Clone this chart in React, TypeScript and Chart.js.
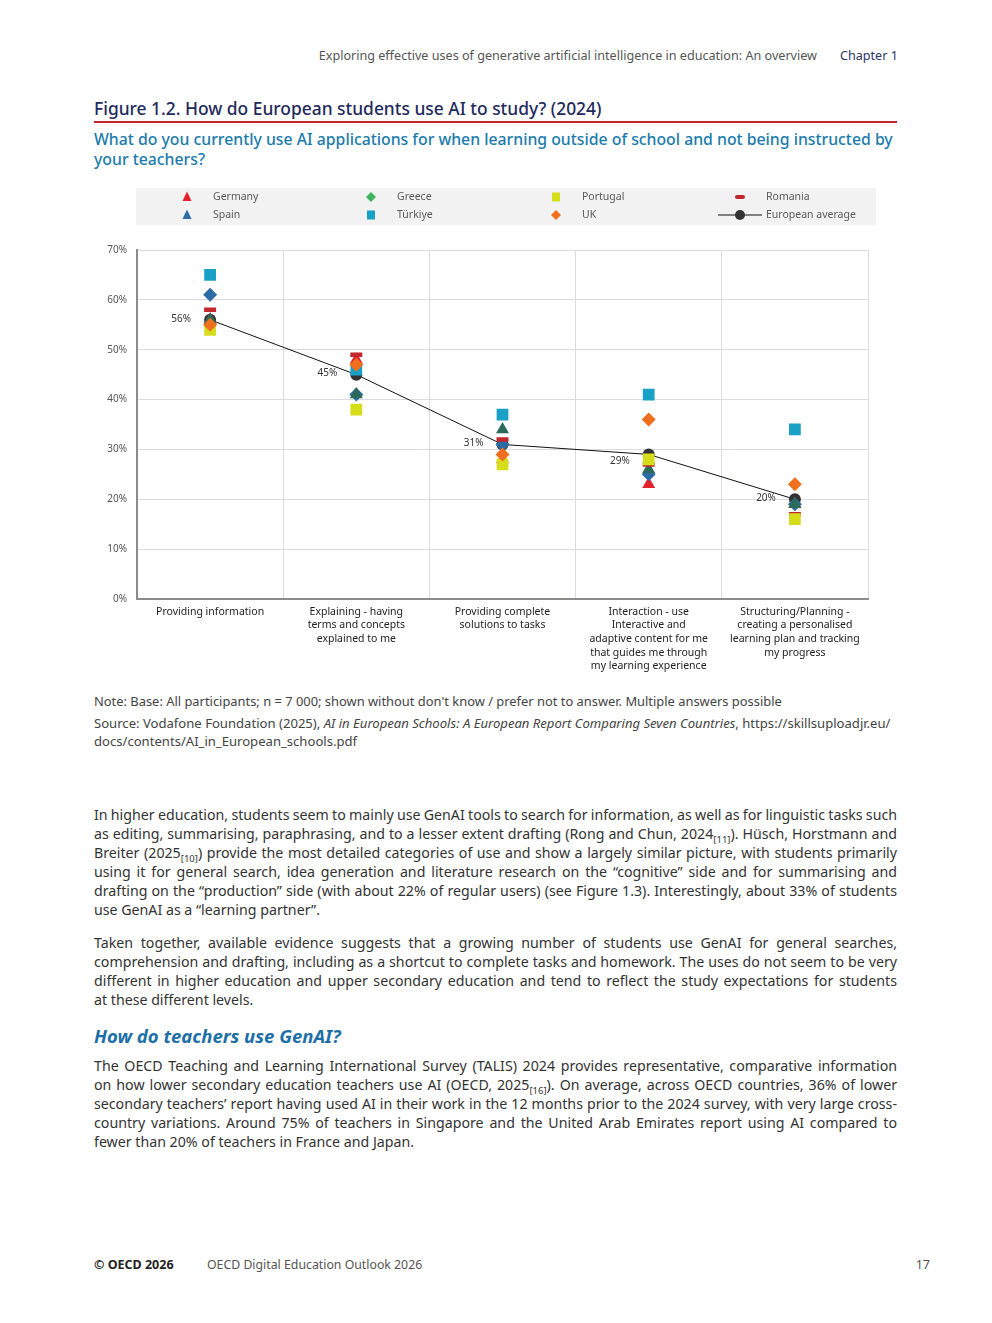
import React, { useEffect, useRef } from 'react';
import { Chart, registerables } from 'chart.js';

Chart.register(...registerables);

// ---------- data ----------
const categories: string[][] = [
  ['Providing information'],
  ['Explaining - having', 'terms and concepts', 'explained to me'],
  ['Providing complete', 'solutions to tasks'],
  ['Interaction - use', 'Interactive and', 'adaptive content for me', 'that guides me through', 'my learning experience'],
  ['Structuring/Planning -', 'creating a personalised', 'learning plan and tracking', 'my progress'],
];
const germany = [56, 48, 28, 23, 19];
const spain = [61, 41, 31, 25, 19];
const greece = [56, 41, 34, 26, 19];
const portugal = [54, 38, 27, 28, 16];
const turkiye = [65, 46, 37, 41, 34];
const uk = [55, 47, 29, 36, 23];
const romania = [58, 49, 32, 27, 17];
const europeanAverage = [56, 45, 31, 29, 20];
const yMin = 0;
const yMax = 70;
const yStep = 10;

const legendRows: { label: string; shape: string; color: string }[][] = [
  [
    { label: 'Germany', shape: 'triangle', color: '#e3222b' },
    { label: 'Greece', shape: 'diamond', color: '#3db45c' },
    { label: 'Portugal', shape: 'square', color: '#d6de1c' },
    { label: 'Romania', shape: 'dash', color: '#c1272d' },
  ],
  [
    { label: 'Spain', shape: 'triangle', color: '#2e6ca3' },
    { label: 'Türkiye', shape: 'square', color: '#18a0c6' },
    { label: 'UK', shape: 'diamond', color: '#ee701f' },
    { label: 'European average', shape: 'avg', color: '#333333' },
  ],
];

const FONT = "'Noto Sans', 'Open Sans', sans-serif";

function drawMarker(ctx: CanvasRenderingContext2D, shape: string, x: number, y: number, color: string) {
  ctx.save();
  ctx.fillStyle = color;
  ctx.strokeStyle = color;
  ctx.beginPath();
  if (shape === 'triangle') {
    ctx.moveTo(x, y - 5.5);
    ctx.lineTo(x + 4.5, y + 4);
    ctx.lineTo(x - 4.5, y + 4);
    ctx.closePath();
    ctx.fill();
  } else if (shape === 'diamond') {
    ctx.moveTo(x, y - 5);
    ctx.lineTo(x + 5, y);
    ctx.lineTo(x, y + 5);
    ctx.lineTo(x - 5, y);
    ctx.closePath();
    ctx.fill();
  } else if (shape === 'square') {
    ctx.rect(x - 4, y - 4.5, 8, 9);
    ctx.fill();
  } else if (shape === 'dash') {
    ctx.lineWidth = 4;
    ctx.lineCap = 'round';
    ctx.moveTo(x - 3, y);
    ctx.lineTo(x + 3, y);
    ctx.stroke();
  } else if (shape === 'avg') {
    ctx.strokeStyle = '#111';
    ctx.lineWidth = 1;
    ctx.moveTo(x - 22, y);
    ctx.lineTo(x + 22, y);
    ctx.stroke();
    ctx.beginPath();
    ctx.arc(x, y, 5, 0, Math.PI * 2);
    ctx.fill();
  }
  ctx.restore();
}

const pageLegend = {
  id: 'pageLegend',
  beforeDraw(chart: any) {
    const ctx: CanvasRenderingContext2D = chart.ctx;
    ctx.save();
    ctx.fillStyle = '#f2f2f2';
    ctx.fillRect(42, 3, 740, 37);
    const markerX = [93, 277, 462, 646];
    const rowY = [12, 30];
    ctx.font = `10.5px ${FONT}`;
    ctx.textBaseline = 'middle';
    ctx.textAlign = 'left';
    legendRows.forEach((row, r) => {
      row.forEach((item, c) => {
        drawMarker(ctx, item.shape, markerX[c], rowY[r], item.color);
        ctx.fillStyle = '#5a5a5a';
        ctx.fillText(item.label, markerX[c] + 26, rowY[r]);
      });
    });
    ctx.restore();
  },
};

const avgLabels = {
  id: 'avgLabels',
  afterDatasetsDraw(chart: any) {
    const idx = chart.data.datasets.findIndex((d: any) => d.label === 'European average');
    const meta = chart.getDatasetMeta(idx);
    const ctx: CanvasRenderingContext2D = chart.ctx;
    ctx.save();
    ctx.font = `10px ${FONT}`;
    ctx.fillStyle = '#333';
    ctx.textAlign = 'right';
    ctx.textBaseline = 'middle';
    meta.data.forEach((pt: any, i: number) => {
      const tx = pt.x - 19;
      let ty = pt.y - 1;
      // avoid the connecting line coming from the previous point
      if (i > 0) {
        const prev = meta.data[i - 1];
        const cx = tx - 10;
        const lineY = prev.y + ((pt.y - prev.y) * (cx - prev.x)) / (pt.x - prev.x);
        if (Math.abs(lineY - ty) < 7) ty = pt.y + 7;
      }
      ctx.fillText(`${europeanAverage[i]}%`, tx, ty);
    });
    ctx.restore();
  },
};

function marker(label: string, data: number[], color: string, style: string, radius: number, order: number) {
  return {
    label,
    data,
    showLine: false,
    pointStyle: style,
    pointRadius: radius,
    pointHoverRadius: radius,
    pointBackgroundColor: color,
    pointBorderColor: color,
    pointBorderWidth: style === 'line' ? 4.5 : 0,
    backgroundColor: color,
    borderColor: color,
    order,
  };
}

function ChartBlock() {
  const ref = useRef<HTMLCanvasElement>(null);
  useEffect(() => {
    if (!ref.current) return;
    const chart = new Chart(ref.current, {
      type: 'line',
      data: {
        labels: categories,
        datasets: [
          {
            label: 'European average',
            data: europeanAverage,
            showLine: true,
            borderColor: '#111111',
            borderWidth: 1,
            tension: 0,
            pointStyle: 'circle',
            pointRadius: 6,
            pointHoverRadius: 6,
            pointBackgroundColor: '#333333',
            pointBorderColor: '#333333',
            pointBorderWidth: 0,
            order: 9,
          } as any,
          marker('Germany', germany, '#e3222b', 'triangle', 7.5, 8),
          marker('Spain', spain, '#2c6ca5', 'rectRot', 7, 7),
          marker('Greece', greece, '#2b6b58', 'triangle', 7.5, 6),
          marker('Romania', romania, '#c1272d', 'line', 6, 5),
          marker('Portugal', portugal, '#d6de1c', 'rect', 8.3, 4),
          marker('Türkiye', turkiye, '#18a0c6', 'rect', 8.3, 3),
          marker('UK', uk, '#ee701f', 'rectRot', 7, 2),
        ],
      },
      options: {
        animation: false,
        responsive: true,
        maintainAspectRatio: false,
        layout: { padding: { top: 65, right: 26, left: 0, bottom: 0 } },
        plugins: {
          legend: { display: false },
          tooltip: { enabled: false },
        },
        scales: {
          x: {
            type: 'category',
            offset: true,
            grid: { offset: true, color: '#dcdae2', lineWidth: 1, drawTicks: false },
            border: { color: '#8c8c8c', width: 2 },
            ticks: {
              color: '#222',
              font: { family: FONT, size: 10.5, lineHeight: 1.3 },
              padding: 6,
              maxRotation: 0,
              autoSkip: false,
            },
            afterFit: (s: any) => { s.height = 81; },
          },
          y: {
            min: yMin,
            max: yMax,
            ticks: {
              stepSize: yStep,
              color: '#555',
              font: { family: FONT, size: 10 },
              padding: 10,
              callback: (v: any) => `${v}%`,
            },
            grid: { color: '#dcdae2', lineWidth: 1, drawTicks: false },
            border: { color: '#8c8c8c', width: 2 },
            afterFit: (s: any) => { s.width = 43; },
          },
        },
      },
      plugins: [pageLegend, avgLabels],
    });
    return () => chart.destroy();
  }, []);
  return (
    <div style={{ position: 'absolute', left: 94, top: 185, width: 800, height: 495 }}>
      <canvas ref={ref} />
    </div>
  );
}

const Sub = ({ children }: { children: React.ReactNode }) => (
  <span style={{ fontSize: 9.5, verticalAlign: -4, lineHeight: 0, wordSpacing: 0 }}>{children}</span>
);

const L = ({ children, last }: { children: React.ReactNode; last?: boolean }) => (
  <div
    style={{
      textAlign: 'justify',
      textAlignLast: last ? 'left' : 'justify',
      whiteSpace: 'nowrap',
      wordSpacing: last ? 0 : -2,
    } as any}
  >
    {children}
  </div>
);

export default function App() {
  const body: React.CSSProperties = {
    position: 'absolute',
    left: 94,
    width: 803,
    fontSize: 14.2,
    lineHeight: '19px',
    color: '#333',
  };
  return (
    <div
      style={{
        position: 'absolute',
        left: 0,
        top: 0,
        width: 992,
        height: 1323,
        background: '#fff',
        fontFamily: FONT,
        color: '#333',
      }}
    >
      {/* header */}
      <div style={{ position: 'absolute', right: 175, top: 48, fontSize: 12.6, lineHeight: '16px', color: '#555', whiteSpace: 'nowrap' }}>
        Exploring effective uses of generative artificial intelligence in education: An overview
      </div>
      <div style={{ position: 'absolute', left: 840, top: 48, fontSize: 12.6, lineHeight: '16px', color: '#2b3566', whiteSpace: 'nowrap' }}>
        Chapter 1
      </div>

      {/* title */}
      <div style={{ position: 'absolute', left: 94, top: 97, fontSize: 17.4, lineHeight: '22px', fontWeight: 500, color: '#1f2a5c', whiteSpace: 'nowrap' }}>
        Figure 1.2. How do European students use AI to study? (2024)
      </div>
      <div style={{ position: 'absolute', left: 94, top: 121, width: 803, height: 2, background: '#c1272d' }} />
      <div style={{ position: 'absolute', left: 94, top: 129, fontSize: 15.8, lineHeight: '20px', fontWeight: 500, color: '#1b7bab', whiteSpace: 'nowrap' }}>
        What do you currently use AI applications for when learning outside of school and not being instructed by
        <br />
        your teachers?
      </div>

      <ChartBlock />

      {/* note / source */}
      <div style={{ position: 'absolute', left: 94, top: 692, fontSize: 12.9, lineHeight: '18px', color: '#444', whiteSpace: 'nowrap' }}>
        Note: Base: All participants; n = 7 000; shown without don't know / prefer not to answer. Multiple answers possible
      </div>
      <div style={{ position: 'absolute', left: 94, top: 714, fontSize: 13.1, lineHeight: '18px', color: '#444', whiteSpace: 'nowrap' }}>
        Source: Vodafone Foundation (2025), <i>AI in European Schools: A European Report Comparing Seven Countries</i>, https://skillsuploadjr.eu/
        <br />
        docs/contents/AI_in_European_schools.pdf
      </div>

      {/* body paragraph 1 */}
      <div style={{ ...body, top: 804.5 }}>
        <L>In higher education, students seem to mainly use GenAI tools to search for information, as well as for linguistic tasks such</L>
        <L>as editing, summarising, paraphrasing, and to a lesser extent drafting (Rong and Chun, 2024<Sub>[11]</Sub>). Hüsch, Horstmann and</L>
        <L>Breiter (2025<Sub>[10]</Sub>) provide the most detailed categories of use and show a largely similar picture, with students primarily</L>
        <L>using it for general search, idea generation and literature research on the “cognitive” side and for summarising and</L>
        <L>drafting on the “production” side (with about 22% of regular users) (see Figure 1.3). Interestingly, about 33% of students</L>
        <L last>use GenAI as a “learning partner”.</L>
      </div>

      {/* body paragraph 2 */}
      <div style={{ ...body, top: 932.5 }}>
        <L>Taken together, available evidence suggests that a growing number of students use GenAI for general searches,</L>
        <L>comprehension and drafting, including as a shortcut to complete tasks and homework. The uses do not seem to be very</L>
        <L>different in higher education and upper secondary education and tend to reflect the study expectations for students</L>
        <L last>at these different levels.</L>
      </div>

      {/* heading */}
      <div style={{ position: 'absolute', left: 94, top: 1024, fontSize: 18.5, lineHeight: '24px', fontWeight: 700, fontStyle: 'italic', color: '#1d6fa5', whiteSpace: 'nowrap' }}>
        How do teachers use GenAI?
      </div>

      {/* body paragraph 3 */}
      <div style={{ ...body, top: 1055.5 }}>
        <L>The OECD Teaching and Learning International Survey (TALIS) 2024 provides representative, comparative information</L>
        <L>on how lower secondary education teachers use AI (OECD, 2025<Sub>[16]</Sub>). On average, across OECD countries, 36% of lower</L>
        <L>secondary teachers’ report having used AI in their work in the 12 months prior to the 2024 survey, with very large cross-</L>
        <L>country variations. Around 75% of teachers in Singapore and the United Arab Emirates report using AI compared to</L>
        <L last>fewer than 20% of teachers in France and Japan.</L>
      </div>

      {/* footer */}
      <div style={{ position: 'absolute', left: 94, top: 1256, fontSize: 12.5, lineHeight: '18px', fontWeight: 700, color: '#222', whiteSpace: 'nowrap' }}>
        © OECD 2026
      </div>
      <div style={{ position: 'absolute', left: 207, top: 1256, fontSize: 12.3, lineHeight: '18px', color: '#555', whiteSpace: 'nowrap' }}>
        OECD Digital Education Outlook 2026
      </div>
      <div style={{ position: 'absolute', right: 62, top: 1256, fontSize: 12.5, lineHeight: '18px', color: '#555', whiteSpace: 'nowrap' }}>
        17
      </div>
    </div>
  );
}
